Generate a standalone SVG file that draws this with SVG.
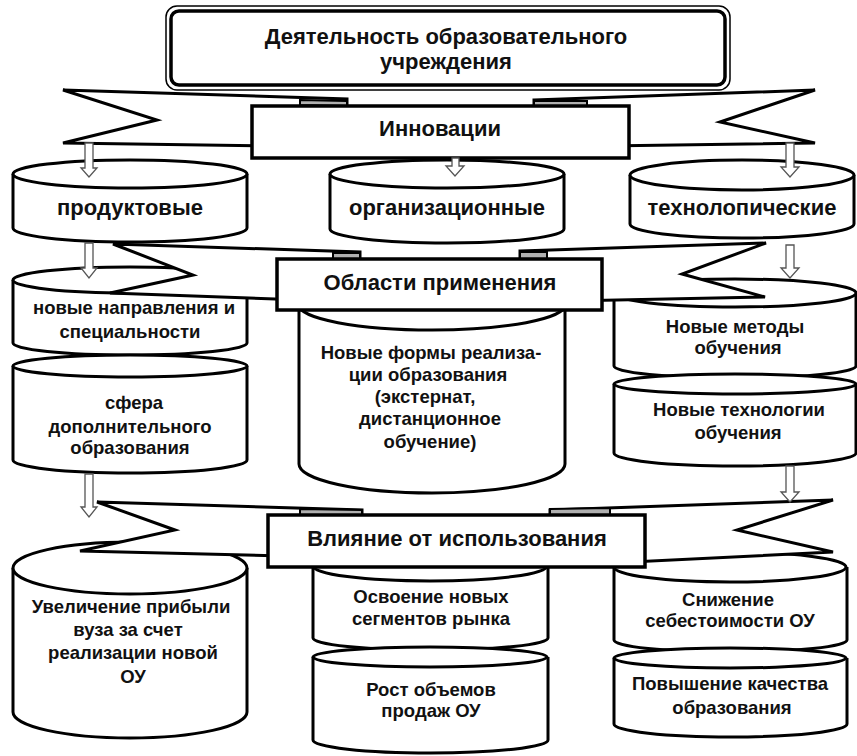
<svg xmlns="http://www.w3.org/2000/svg" width="857" height="756" viewBox="0 0 857 756">
<style>
.s{stroke:#000;stroke-width:3;fill:#fff;stroke-linejoin:round}
.w{stroke:#000;stroke-width:3;fill:#fff;stroke-linejoin:miter}
.f{fill:#b0b0b0;stroke:#000;stroke-width:2}
.b{stroke:#000;stroke-width:3.5;fill:#fff}
.t{font-family:"Liberation Sans",Arial,sans-serif;font-weight:bold;font-size:18.5px;text-anchor:middle;fill:#111}
.h{font-size:22px}
.ar{fill:#fff;stroke:#555;stroke-width:1.3}
</style>
<rect width="857" height="756" fill="#fff"/>

<g id="title">
<rect x="166" y="6" width="564" height="84" rx="11" fill="#fff" stroke="#000" stroke-width="1.5"/>
<rect x="171" y="11" width="554" height="74" rx="8" fill="#fff" stroke="#000" stroke-width="3.5"/>
<text class="t h" x="446" y="44">Деятельность образовательного</text>
<text class="t h" x="446" y="69">учреждения</text>
</g>

<g id="banner-innovations">
<polygon class="w" points="63,90 347,99 347,147 63,143 157,120"/>
<polygon class="w" points="534,100 815,90 720,122 815,143 534,147"/>
<polygon class="f" points="300,100 347,101 347,106 300,105"/>
<polygon class="f" points="534,101 587,101 587,106 534,106"/>
<rect class="b" x="252" y="106" width="377" height="52"/>
<text class="t h" x="440" y="136">Инновации</text>
</g>

<g id="cyl-product">
<path class="s" d="M13,174 L13,228 A117,14 0 0 0 247,228 L247,174"/>
<ellipse class="s" cx="130" cy="174" rx="117" ry="14"/>
<text class="t h" x="130" y="215">продуктовые</text>
</g>
<g id="cyl-org">
<path class="s" d="M330,174 L330,229 A117,14 0 0 0 564,229 L564,174"/>
<ellipse class="s" cx="447" cy="174" rx="117" ry="14"/>
<text class="t h" x="447" y="215">организационные</text>
</g>
<g id="cyl-tech">
<path class="s" d="M630,175 L630,224 A112,14 0 0 0 854,224 L854,175"/>
<ellipse class="s" cx="742" cy="175" rx="112" ry="15"/>
<text class="t h" x="742" y="215">технолопические</text>
</g>

<g id="cyl-directions">
<path class="s" d="M13,280 L13,343 A117,12 0 0 0 247,343 L247,280"/>
<ellipse class="s" cx="130" cy="280" rx="117" ry="13"/>
<text class="t" x="134" y="314">новые направления и</text>
<text class="t" x="130" y="338">специальности</text>
</g>
<g id="cyl-additional">
<path class="s" d="M13,366 L13,460 A117,13 0 0 0 247,460 L247,366"/>
<ellipse class="s" cx="130" cy="366" rx="117" ry="11"/>
<text class="t" x="134" y="409">сфера</text>
<text class="t" x="130" y="433">дополнительного</text>
<text class="t" x="130" y="454">образования</text>
</g>
<g id="cyl-forms">
<path class="s" d="M299,305 L299,464 A133,29 0 0 0 565,464 L565,305"/>
<ellipse class="s" cx="432" cy="305" rx="133" ry="25"/>
<text class="t" x="431" y="359">Новые формы реализа-</text>
<text class="t" x="428" y="381">ции образования</text>
<text class="t" x="425" y="403">(экстернат,</text>
<text class="t" x="430" y="425">дистанционное</text>
<text class="t" x="430" y="448">обучение)</text>
</g>
<g id="cyl-methods">
<path class="s" d="M614,293 L614,366 A121,12 0 0 0 856,366 L856,293"/>
<ellipse class="s" cx="735" cy="293" rx="121" ry="14"/>
<text class="t" x="735" y="333">Новые методы</text>
<text class="t" x="738" y="354">обучения</text>
</g>
<g id="cyl-technologies">
<path class="s" d="M614,384 L614,453 A121,13 0 0 0 856,453 L856,384"/>
<ellipse class="s" cx="735" cy="384" rx="121" ry="10"/>
<text class="t" x="739" y="416">Новые технологии</text>
<text class="t" x="738" y="439">обучения</text>
</g>

<g id="banner-areas">
<polygon class="w" points="113,244 360,252 360,302 110,293 193,275"/>
<polygon class="w" points="520,251 766,243 682,274 765,297 520,302"/>
<polygon class="f" points="333,253 360,253 360,259 333,259"/>
<polygon class="f" points="520,252 547,252 547,259 520,259"/>
<rect class="b" x="277" y="259" width="325" height="51"/>
<text class="t h" x="440" y="290">Области применения</text>
</g>

<g id="cyl-profit">
<path class="s" d="M13,568 L13,712 A117,26 0 0 0 247,712 L247,568"/>
<ellipse class="s" cx="130" cy="568" rx="117" ry="26"/>
<text class="t" x="131" y="613">Увеличение прибыли</text>
<text class="t" x="128" y="636">вуза за счет</text>
<text class="t" x="133" y="659">реализации новой</text>
<text class="t" x="133" y="683">ОУ</text>
</g>
<g id="cyl-segments">
<path class="s" d="M313,566 L313,638 A117,12 0 0 0 548,638 L548,566"/>
<ellipse class="s" cx="430" cy="566" rx="117" ry="15"/>
<text class="t" x="431" y="603">Освоение новых</text>
<text class="t" x="431" y="625">сегментов рынка</text>
</g>
<g id="cyl-sales">
<path class="s" d="M313,657 L313,740 A117,13 0 0 0 548,740 L548,657"/>
<ellipse class="s" cx="430" cy="657" rx="117" ry="10"/>
<text class="t" x="431" y="696">Рост объемов</text>
<text class="t" x="431" y="717">продаж ОУ</text>
</g>
<g id="cyl-cost">
<path class="s" d="M614,567 L614,640 A116,12 0 0 0 847,640 L847,567"/>
<ellipse class="s" cx="730" cy="567" rx="116" ry="15"/>
<text class="t" x="728" y="606">Снижение</text>
<text class="t" x="730" y="627">себестоимости ОУ</text>
</g>
<g id="cyl-quality">
<path class="s" d="M614,658 L614,724 A116,13 0 0 0 847,724 L847,658"/>
<ellipse class="s" cx="730" cy="658" rx="116" ry="10"/>
<text class="t" x="730" y="690">Повышение качества</text>
<text class="t" x="732" y="714">образования</text>
</g>

<g id="banner-impact">
<polygon class="w" points="97,502 362,510 362,558 80,551 175,530"/>
<polygon class="w" points="550,510 833,500 737,530 833,552 550,566"/>
<polygon class="f" points="300,509 362,510 362,516 300,515"/>
<polygon class="f" points="550,509 610,508 610,515 550,515"/>
<rect class="b" x="268" y="515" width="377" height="52"/>
<text class="t h" x="457" y="546">Влияние от использования</text>
</g>

<g id="connectors">
<polygon class="ar" points="85,143 93,143 93,168 97,168 89,177 81,168 85,168"/>
<polygon class="ar" points="452,158 459,158 459,166 464,166 455,176 446,166 452,166"/>
<polygon class="ar" points="786,143 794,143 794,167 799,167 790,177 781,167 786,167"/>
<polygon class="ar" points="85,243 93,243 93,268 97,268 89,278 81,268 85,268"/>
<polygon class="ar" points="786,245 794,245 794,268 799,268 790,278 781,268 786,268"/>
<polygon class="ar" points="85,474 93,474 93,507 97,507 89,517 81,507 85,507"/>
<polygon class="ar" points="786,466 794,466 794,492 799,492 790,502 781,492 786,492"/>
</g>
</svg>
